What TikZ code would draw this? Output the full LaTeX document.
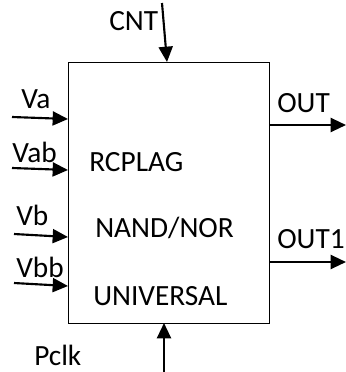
\documentclass[tikz,border=0pt]{standalone}
\usepackage{fontspec}
\setmainfont{Carlito}
\usetikzlibrary{arrows.meta}
\tikzset{
  every picture/.style={x=0.75pt, y=-0.75pt, font=\fontsize{22}{26}\selectfont},
  block/.style={draw, line width=0.75pt, minimum width=150.75pt, minimum height=195.75pt, inner sep=0pt},
  sig/.style={-{Triangle[length=11.5pt,width=10.5pt]}, line width=1.6pt},
  lbl/.style={anchor=base west, inner sep=0pt},
}

\begin{document}
\begin{tikzpicture}
  \useasboundingbox (0,0) rectangle (346,372);
  % the block and what it holds
  \node[block] (blk) at (168.5,192.5) {};
  \node[lbl] (rcplag) at (89,171) {RCPLAG};
  \node[lbl] (nandnor) at (95,237) {NAND/NOR};
  \node[lbl] (univ) at (93,305) {UNIVERSAL};
  % inputs on the left
  \foreach \n/\xa/\ya/\yb/\lx/\ly in {Va/12/117/119/21/108, Vab/12/168/170/12/162, Vb/14/234/237/16/225, Vbb/14/283/286/16/277} {
    \coordinate (in\n) at (\xa,\ya);
    \coordinate (at\n) at (68,\yb);
    \draw[sig] (in\n) -- (at\n);
    \node[lbl] (\n) at (\lx,\ly) {\n};
  }
  % outputs on the right
  \foreach \n/\y/\ly in {OUT/125/112, OUT1/262/248} {
    \coordinate (from\n) at (269,\y);
    \coordinate (to\n) at (346,\y);
    \draw[sig] (from\n) -- (to\n);
    \node[lbl] (\n) at (277,\ly) {\n};
  }
  % control from above, clock from below
  \coordinate (cntS) at (162,3);
  \coordinate (cntE) at (167,62);
  \draw[sig] (cntS) -- (cntE);
  \node[lbl] (cnt) at (109,30) {CNT};
  \coordinate (clkS) at (164,372);
  \coordinate (clkE) at (164,323);
  \draw[sig] (clkS) -- (clkE);
  \node[lbl] (pclk) at (34,365) {Pclk};
\end{tikzpicture}
\end{document}
